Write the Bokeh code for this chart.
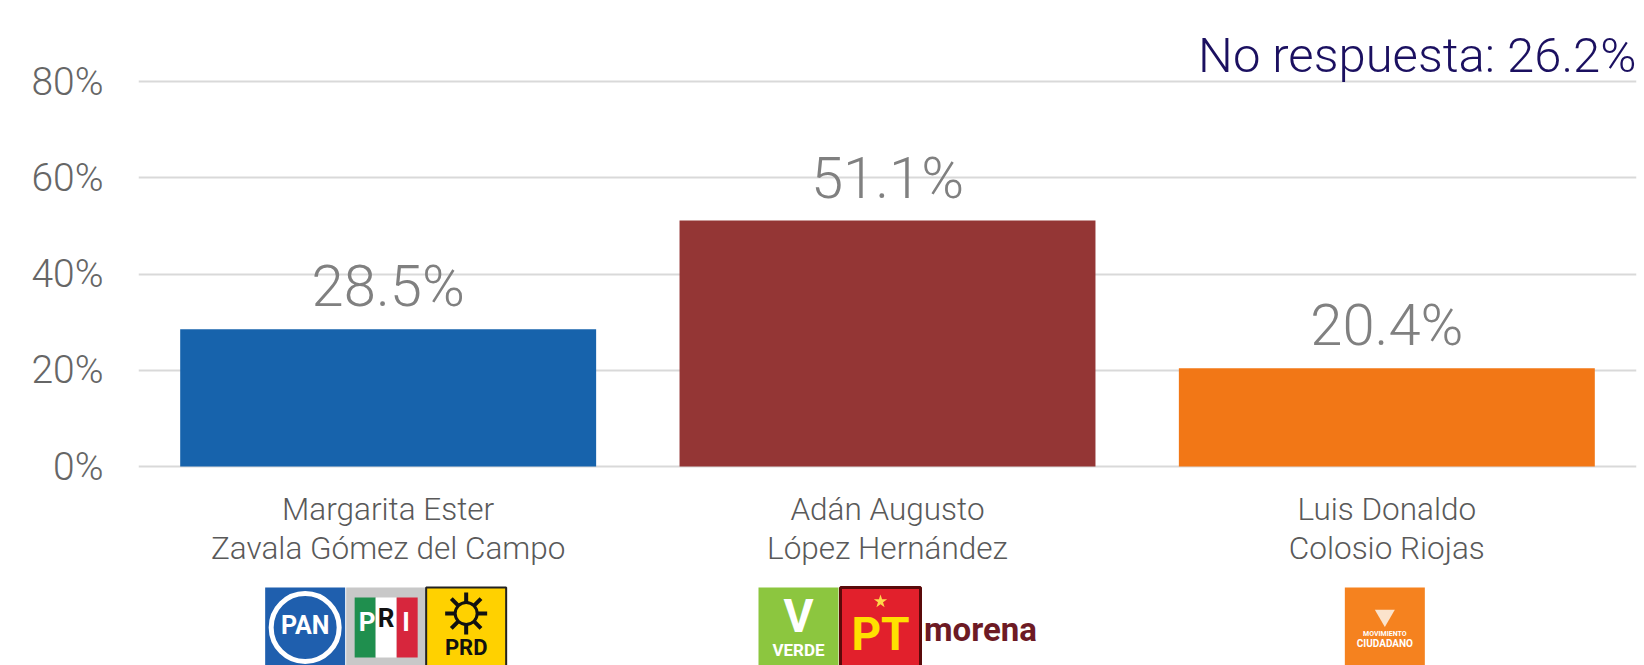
from bokeh.plotting import figure
from bokeh.models import (Range1d, FixedTicker, PrintfTickFormatter, Label,
                          LabelSet, ColumnDataSource)
from bokeh.embed import file_html
from bokeh.resources import INLINE
from bokeh.core.properties import value

# ---------------- data ----------------
name_line1 = ["Margarita Ester", "Adán Augusto", "Luis Donaldo"]
name_line2 = ["Zavala Gómez del Campo", "López Hernández", "Colosio Riojas"]
shares = [28.5, 51.1, 20.4]
bar_colors = ["#1763ac", "#943635", "#f27716"]
y_ticks = [0, 20, 40, 60, 80]
no_response = 26.2

# party logos (which candidate each belongs to)
logo_party = ["PAN", "PRI", "PRD", "VERDE", "PT", "morena", "MC"]
logo_candidate = [0, 0, 0, 1, 1, 1, 2]

# ---------------- geometry ----------------
W, H = 1644, 665
LEFT = 138
RIGHT_PAD = 8
ZERO_Y = 466            # pixel row of the 0% line
PX_PER_PCT = 4.8125
X_PX = (W - LEFT - RIGHT_PAD) / 3.0

FONT = "Roboto Light"

def y_at(px):
    return (ZERO_Y - px) / PX_PER_PCT

def x_at(cat, dx_px=0.0):
    return cat + 0.5 + dx_px / X_PX

p = figure(width=W, height=H, output_backend="svg", toolbar_location=None,
           x_range=Range1d(0, 3), y_range=Range1d(y_at(H), y_at(0)),
           min_border=0, min_border_left=LEFT, min_border_right=RIGHT_PAD)
p.outline_line_color = None
p.background_fill_color = "white"
p.border_fill_color = "white"
p.xaxis.visible = False
p.xgrid.visible = False

yax = p.yaxis[0]
yax.ticker = FixedTicker(ticks=y_ticks)
yax.formatter = PrintfTickFormatter(format="%d%%")
yax.axis_line_color = None
yax.major_tick_line_color = None
yax.minor_tick_line_color = None
yax.major_tick_out = 0
yax.major_label_standoff = 35
yax.major_label_text_font = FONT
yax.major_label_text_font_size = "39px"
yax.major_label_text_color = "#666666"
p.ygrid.grid_line_color = "#d9d9d9"
p.ygrid.grid_line_width = 2

xs = [i + 0.5 for i in range(len(shares))]
src = ColumnDataSource(dict(
    x=xs, top=shares, color=bar_colors,
    lab=[f"{v:.1f}%" for v in shares],
    lab_y=[v + 23 / PX_PER_PCT for v in shares],
    l1=name_line1, l2=name_line2,
    l1_y=[y_at(519)] * len(shares), l2_y=[y_at(558)] * len(shares),
))
p.vbar(x="x", top="top", bottom=0, width=0.833, fill_color="color",
       line_color=None, source=src)

p.add_layout(LabelSet(x="x", y="lab_y", text="lab", source=src,
                      text_align="center", text_baseline="alphabetic",
                      text_font=value(FONT), text_font_size=value("58px"),
                      text_color="#808080"))
p.add_layout(LabelSet(x="x", y="l1_y", text="l1", source=src,
                      text_align="center", text_baseline="alphabetic",
                      text_font=value(FONT), text_font_size=value("31.5px"),
                      text_color="#595959"))
p.add_layout(LabelSet(x="x", y="l2_y", text="l2", source=src,
                      text_align="center", text_baseline="alphabetic",
                      text_font=value(FONT), text_font_size=value("31.5px"),
                      text_color="#595959"))

p.add_layout(Label(x=3, y=y_at(55), text=f"No respuesta: {no_response}%",
                   text_align="right", text_baseline="alphabetic",
                   text_font=FONT, text_font_size="49px",
                   text_color="#1b1060"))

# ---------------- logos (decoration) ----------------
logo_dx = {"PAN": -83, "PRI": -2, "PRD": 78, "VERDE": -89, "PT": -7,
           "morena": 93, "MC": -2}
LY = 627  # logo centre row
S = 80
BOLD = "Roboto"

def box(cx, fill, line=None, lw=0):
    p.rect(x=[cx], y=[y_at(LY)], width=S, height=S, width_units="screen",
           height_units="screen", fill_color=fill,
           line_color=line, line_width=lw)

def txt(cx, fy, t, size, color, dx=0):
    p.text(x=[cx + dx / X_PX], y=[y_at(fy)], text=[t], text_align="center",
           text_baseline="middle", text_font=value(BOLD),
           text_font_style="bold", text_font_size=size, text_color=color)

for party, cat in zip(logo_party, logo_candidate):
    cx = x_at(cat, logo_dx[party])
    if party == "PAN":
        box(cx, "#1f5fae")
        p.circle(x=[cx], y=[y_at(LY)], radius=34, radius_units="screen",
                 fill_color=None, line_color="white", line_width=5)
        txt(cx, LY - 2, "PAN", "25px", "white")
    elif party == "PRI":
        box(cx, "#c8c8c8")
        for dx, c in ((-21, "#1f8f4e"), (0, "white"), (21, "#d7263d")):
            p.rect(x=[cx + dx / X_PX], y=[y_at(LY)], width=21, height=60,
                   width_units="screen", height_units="screen",
                   fill_color=c, line_color=None)
        txt(cx, LY - 6, "P", "26px", "white", dx=-19)
        txt(cx, LY - 10, "R", "26px", "#111111")
        txt(cx, LY - 6, "I", "26px", "white", dx=20)
    elif party == "PRD":
        box(cx, "#ffd100", "#222222", 2)
        p.scatter(x=[cx], y=[y_at(LY - 14)], marker="asterisk", size=42,
                  line_color="#111111", line_width=4)
        p.circle(x=[cx], y=[y_at(LY - 14)], radius=11, radius_units="screen",
                 fill_color="#ffd100", line_color="#111111", line_width=3)
        txt(cx, LY + 20, "PRD", "22px", "#111111")
    elif party == "VERDE":
        box(cx, "#8cc63f")
        txt(cx, LY - 12, "V", "46px", "white")
        txt(cx, LY + 22, "VERDE", "17px", "white")
    elif party == "PT":
        box(cx, "#e2202c", "#5a0a0a", 3)
        p.scatter(x=[cx], y=[y_at(LY - 26)], marker="star", size=14,
                  fill_color="#ffd84a", line_color=None)
        txt(cx, LY + 6, "PT", "46px", "#ffe000")
    elif party == "morena":
        txt(cx, LY + 2, "morena", "33px", "#6d1a24")
    elif party == "MC":
        box(cx, "#f5821f")
        p.scatter(x=[cx], y=[y_at(LY - 12)], marker="inverted_triangle",
                  size=20, fill_color="#fbe3cc", line_color=None)
        txt(cx, LY + 6, "MOVIMIENTO", "7px", "white")
        txt(cx, LY + 16, "CIUDADANO", "10px", "white")

open("out.html", "w").write(file_html(p, INLINE))
